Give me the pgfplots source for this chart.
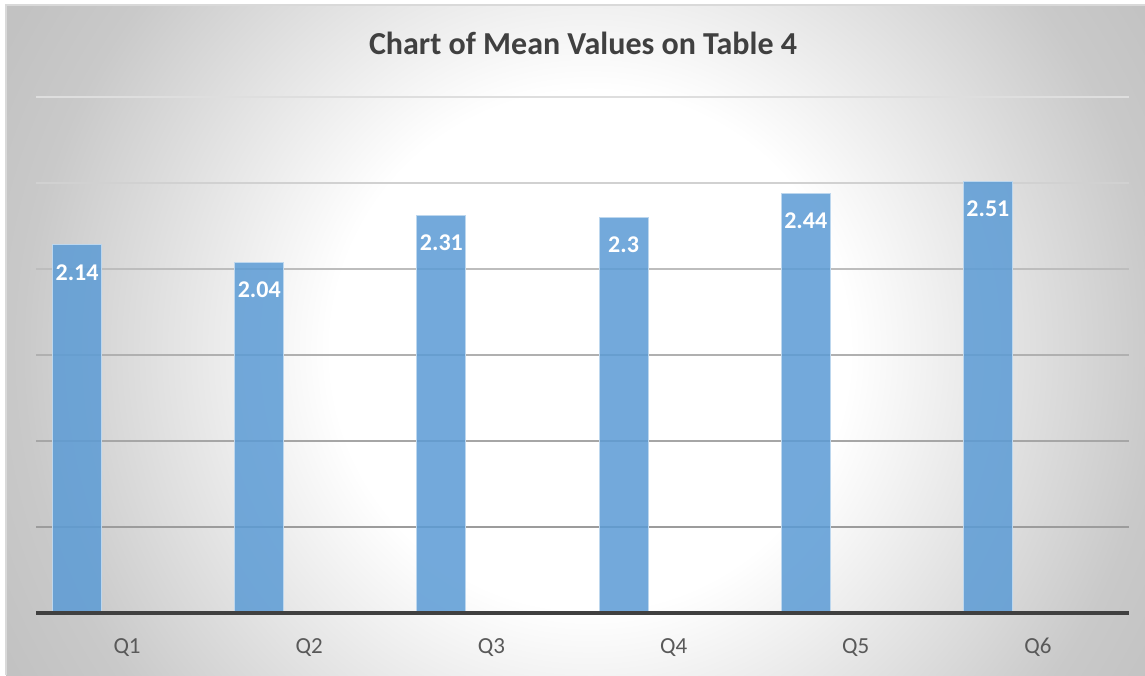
\documentclass[border=0pt]{standalone}
\usepackage{fontspec}
\setmainfont{Carlito}
\usepackage{pgfplots}
\pgfplotsset{compat=1.18}
\definecolor{barblue}{HTML}{5B9BD5}
\definecolor{baredge}{HTML}{BDD7EE}
\definecolor{titlegray}{HTML}{404040}
\definecolor{tickgray}{HTML}{595959}
\definecolor{bgA}{HTML}{C9C9C9}
\definecolor{bgB}{HTML}{C2C2C2}
\definecolor{borderc}{HTML}{D9D9D9}
\definecolor{baselinec}{HTML}{404040}
\pgfdeclareradialshading{bgrad}{\pgfpoint{0bp}{0bp}}{color(0bp)=(white); color(9.8bp)=(white); color(21.5bp)=(bgA); color(25bp)=(bgB); color(50bp)=(bgB)}

\pgfplotstableread{
x  y
0  2.14
1  2.04
2  2.31
3  2.30
4  2.44
5  2.51
}\meandata

\begin{document}
\begin{tikzpicture}
\begin{scope}[x=0.5pt,y=0.5pt]
\path[use as bounding box] (0,0) rectangle (1145,675);
\begin{scope}
\clip (6,0) rectangle (1145,670);
\shade[shading=bgrad] (590-661,325-661) rectangle (590+661,325+661);
\end{scope}
\draw[borderc, line width=0.6pt] (6,0) -- (6,670) -- (1145,670);
\node[anchor=base, inner sep=0pt, font=\bfseries\fontsize{16}{19}\selectfont, text=titlegray] at (583,675-55) {Chart of Mean Values on Table 4};
\end{scope}
\begin{axis}[
  at={(18pt,31pt)}, anchor=south west,
  scale only axis, width=546.5pt, height=258pt,
  ybar, bar width=24.5pt, bar shift=-25pt,
  xmin=-0.5, xmax=5.5, ymin=0, ymax=3,
  axis line style={draw=none}, tick style={draw=none},
  major tick length=0pt,
  ytick=\empty,
  xtick={0,1,2,3,4,5},
  xticklabels={Q1,Q2,Q3,Q4,Q5,Q6},
  xticklabel style={inner sep=0pt, yshift=-12.5pt, text=tickgray, font=\fontsize{11.5}{14}\selectfont},
  clip=false,
  /pgf/number format/assume math mode=true,
  nodes near coords={\pgfmathprintnumber{\pgfplotspointmeta}},
  every node near coord/.append style={anchor=north, inner sep=0pt, yshift=-9.5pt, text=white, text opacity=1, fill opacity=1, font=\bfseries\fontsize{12}{14}\selectfont},
]
\draw[color=black!13, line width=0.9pt] (axis cs:-0.5,3) -- (axis cs:5.5,3);
\draw[color=black!18, line width=0.9pt] (axis cs:-0.5,2.5) -- (axis cs:5.5,2.5);
\draw[color=black!26, line width=0.9pt] (axis cs:-0.5,2) -- (axis cs:5.5,2);
\draw[color=black!31, line width=0.9pt] (axis cs:-0.5,1.5) -- (axis cs:5.5,1.5);
\draw[color=black!35, line width=0.9pt] (axis cs:-0.5,1) -- (axis cs:5.5,1);
\draw[color=black!39, line width=0.9pt] (axis cs:-0.5,0.5) -- (axis cs:5.5,0.5);
\addplot[fill=barblue, fill opacity=0.85, draw=baredge, line width=0.5pt] table[x=x, y=y] {\meandata};
\draw[color=baselinec, line width=1.6pt] (axis cs:-0.5,0) -- (axis cs:5.5,0);
\end{axis}
\end{tikzpicture}
\end{document}
